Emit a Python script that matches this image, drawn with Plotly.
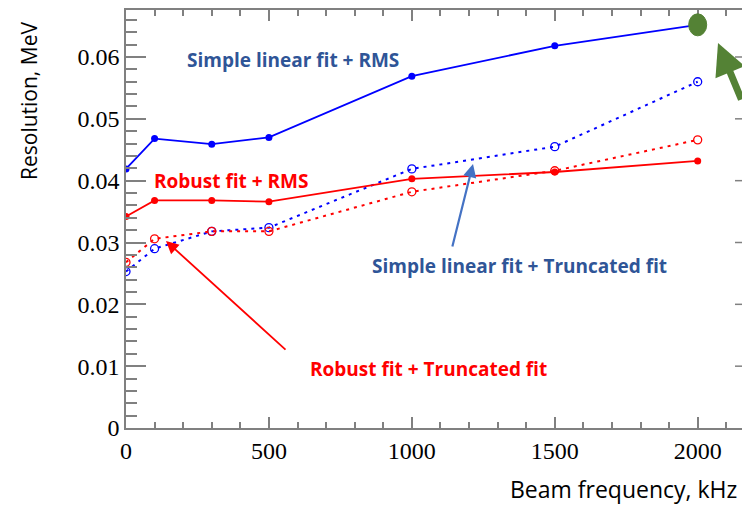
import plotly.graph_objects as go

# Beam frequency (kHz) and energy resolution (MeV) for the four reconstruction methods
freq_khz = [0, 100, 300, 500, 1000, 1500, 2000]
simple_rms = [0.0419, 0.0468, 0.0459, 0.0470, 0.0569, 0.0618, 0.0652]
robust_rms = [0.0342, 0.0368, 0.0368, 0.0366, 0.0403, 0.0414, 0.0432]
simple_trunc = [0.0253, 0.0290, 0.0318, 0.0324, 0.0419, 0.0455, 0.0560]
robust_trunc = [0.0268, 0.0306, 0.0318, 0.0318, 0.0382, 0.0416, 0.0466]

y_ticks = [0, 0.01, 0.02, 0.03, 0.04, 0.05, 0.06]
y_tick_text = ["0", "0.01", "0.02", "0.03", "0.04", "0.05", "0.06"]
x_ticks = [0, 500, 1000, 1500, 2000]
x_tick_text = ["0", "500", "1000", "1500", "2000"]

W, H = 742, 505
L, R, T, B = 126, 742, 10, 428
PW, PH = R - L, B - T


def px(xp):
    return (xp - L) / PW


def py(yp):
    return (B - yp) / PH


BLUE = "#0000ff"
RED = "#ff0000"
AXIS = "#808080"

fig = go.Figure()

fig.add_trace(go.Scatter(
    x=freq_khz, y=simple_trunc, mode="lines+markers",
    line=dict(color=BLUE, width=2, dash="3px,5px"),
    marker=dict(symbol="circle-open", size=8, color=BLUE, line=dict(width=1.3)),
))
fig.add_trace(go.Scatter(
    x=freq_khz, y=robust_trunc, mode="lines+markers",
    line=dict(color=RED, width=2, dash="3px,5px"),
    marker=dict(symbol="circle-open", size=8, color=RED, line=dict(width=1.3)),
))
fig.add_trace(go.Scatter(
    x=freq_khz, y=robust_rms, mode="lines+markers",
    line=dict(color=RED, width=1.8),
    marker=dict(symbol="circle", size=7, color=RED),
))
fig.add_trace(go.Scatter(
    x=freq_khz, y=simple_rms, mode="lines+markers",
    line=dict(color=BLUE, width=1.8),
    marker=dict(symbol="circle", size=7, color=BLUE),
))

# Highlight of the highest-frequency point
fig.add_shape(
    type="circle", xref="x", yref="y",
    xsizemode="pixel", ysizemode="pixel",
    xanchor=freq_khz[-1], yanchor=simple_rms[-1],
    x0=-9, x1=9, y0=-11, y1=11,
    fillcolor="#548235", line=dict(color="#548235", width=1),
)

# Partial ticks of the right-hand frame
for v in y_ticks[1:]:
    fig.add_shape(type="line", xref="paper", yref="y",
                  x0=1 - 7 / PW, x1=1, y0=v, y1=v,
                  line=dict(color=AXIS, width=1.5))

label_font = dict(family="Open Sans", size=19, weight="bold")
dark_blue = "#2f5597"


def label(text, xp, yp, color):
    fig.add_annotation(text=text, x=px(xp), y=py(yp),
                       xref="paper", yref="paper", showarrow=False,
                       xanchor="center", yanchor="middle",
                       font=dict(label_font, color=color))


label("Simple linear fit + RMS", 293, 60, dark_blue)
label("Robust fit + RMS", 231, 181, RED)
label("Simple linear fit + Truncated fit", 519, 266, dark_blue)
label("Robust fit + Truncated fit", 428, 369, RED)

# Pointer arrows
fig.add_annotation(text="", x=px(166), y=py(241), xref="paper", yref="paper",
                   ax=287 - 166, ay=351 - 241, showarrow=True,
                   arrowhead=2, arrowsize=1.4, arrowwidth=1.8, arrowcolor=RED)
fig.add_annotation(text="", x=px(473), y=py(164), xref="paper", yref="paper",
                   ax=452 - 473, ay=248 - 164, showarrow=True,
                   arrowhead=2, arrowsize=1.2, arrowwidth=2.2, arrowcolor="#4472c4")
fig.add_annotation(text="", x=px(718), y=py(43), xref="paper", yref="paper",
                   ax=44, ay=58, showarrow=True,
                   arrowhead=2, arrowsize=0.9, arrowwidth=7, arrowcolor="#548235")

# Axis titles
fig.add_annotation(text="Resolution, MeV", x=px(29), y=py(101),
                   xref="paper", yref="paper", showarrow=False, textangle=-90,
                   xanchor="center", yanchor="middle",
                   font=dict(family="Open Sans", size=21, color="#000000"))
fig.add_annotation(text="Beam frequency, kHz", x=px(739), y=py(489),
                   xref="paper", yref="paper", showarrow=False,
                   xanchor="right", yanchor="middle",
                   font=dict(family="Open Sans", size=23, color="#000000"))

tick_font = dict(family="Liberation Serif", size=24, color="#000000")

fig.update_xaxes(
    range=[0, 2155], tickvals=x_ticks, ticktext=x_tick_text,
    ticks="inside", ticklen=11, tickwidth=1.5, tickcolor=AXIS,
    minor=dict(dtick=100, ticks="inside", ticklen=6, tickwidth=1.5, tickcolor=AXIS),
    showline=True, linecolor=AXIS, linewidth=1.5, mirror="ticks",
    showgrid=False, zeroline=False, tickfont=tick_font,
)
fig.update_yaxes(
    range=[0, 0.0676], tickvals=y_ticks, ticktext=y_tick_text,
    ticks="inside", ticklen=20, tickwidth=1.5, tickcolor=AXIS,
    minor=dict(dtick=0.002, ticks="inside", ticklen=11, tickwidth=1.5, tickcolor=AXIS),
    showline=True, linecolor=AXIS, linewidth=1.5, mirror=False,
    showgrid=False, zeroline=False, tickfont=tick_font,
)

fig.update_layout(
    width=W, height=H,
    margin=dict(l=L, r=W - R, t=T, b=H - B, pad=0),
    paper_bgcolor="white", plot_bgcolor="white",
    showlegend=False,
)

fig.write_html("out.html")
